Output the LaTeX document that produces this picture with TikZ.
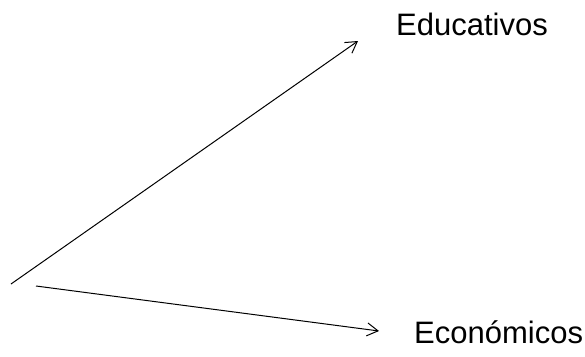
\documentclass[tikz,border=0pt]{standalone}
\usepackage{fontspec}
\setmainfont{Liberation Sans}
\usetikzlibrary{arrows.meta}

\begin{document}
\begin{tikzpicture}[x=1pt,y=-1pt]
        \useasboundingbox (0,0) rectangle (585,356);
        \tikzset{label text/.style={anchor=base west,inner sep=0pt,font=\fontsize{31}{37}\selectfont},
          branch/.style={line width=1pt,-{Straight Barb[length=11pt,width=13pt]}}}
        % Labels
        \node[label text] (edu) at (396,35) {Educativos};
        \node[label text] (eco) at (414,343) {Económicos};
        
        % Start and end points
        \coordinate (s1) at (11,284);
        \coordinate (s2) at (36,286);
        \coordinate (t1) at (358,41);
        \coordinate (t2) at (379,331);
        
        % Arrows
        \draw[branch] (s1) -- (t1);
        \draw[branch] (s2) -- (t2);
      \end{tikzpicture}
\end{document}
